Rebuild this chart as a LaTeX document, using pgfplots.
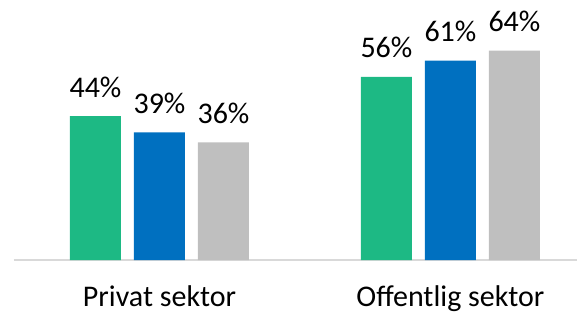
\documentclass[border=0pt]{standalone}
\usepackage{pgfplots}
\pgfplotsset{compat=1.18}
\usepackage{fontspec}
\setmainfont{Carlito}
\definecolor{cgreen}{RGB}{29,185,132}
\definecolor{cblue}{RGB}{0,112,192}
\definecolor{cgray}{RGB}{191,191,191}
\definecolor{cline}{RGB}{217,217,217}
\begin{document}
\begin{tikzpicture}
\path[use as bounding box] (-14pt,-54pt) rectangle (563pt,260pt);
\begin{axis}[
  at={(0,0)}, anchor=south west,
  scale only axis, width=563pt, height=260pt,
  xmin=-0.5, xmax=1.435, ymin=0, ymax=79.5,
  enlargelimits=false,
  ybar=13pt, bar width=51pt,
  axis x line*=bottom, axis y line=none,
  x axis line style={-, draw=cline, line width=1.2pt},
  xtick={0,1}, xticklabels={Privat sektor, Offentlig sektor},
  xtick style={draw=none},
  xticklabel style={anchor=base, inner sep=0pt, yshift=-42pt, font=\fontsize{30}{30}\selectfont},
  /pgf/number format/assume math mode=true,
  nodes near coords={\pgfmathprintnumber{\pgfplotspointmeta}\%},
  nodes near coords style={anchor=base, yshift=19pt, font=\fontsize{30}{30}\selectfont, text=black},
]
\addplot[fill=cgreen, draw=none] coordinates {(0,44) (1,56)};
\addplot[fill=cblue, draw=none] coordinates {(0,39) (1,61)};
\addplot[fill=cgray, draw=none] coordinates {(0,36) (1,64)};
\end{axis}
\end{tikzpicture}
\end{document}
